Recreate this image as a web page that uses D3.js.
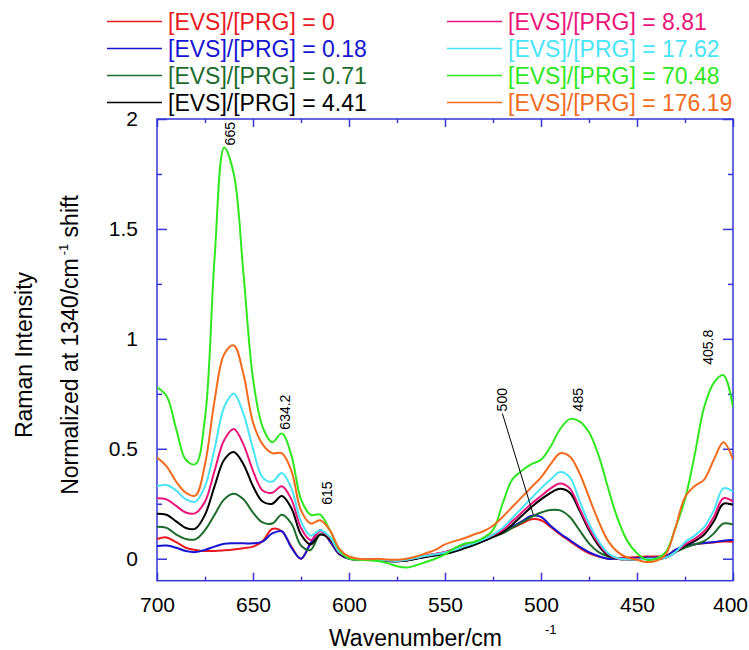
<!DOCTYPE html>
<html>
<head>
<meta charset="utf-8">
<script src="https://cdn.jsdelivr.net/npm/d3@7"></script>
<style>
body { margin: 0; background: #fff; }
text { font-family: "Liberation Sans", Arial, sans-serif; }
</style>
</head>
<body>
<div class="diagram"></div>
<script>
var width = 749, height = 650;

// wavenumbers (cm-1), every 5 from 700 down to 400
var wavenumbers = [700, 695, 690, 685, 680, 675, 670, 665, 660, 655, 650, 645, 640, 635, 630, 625, 620, 615, 610, 605,
  600, 595, 590, 585, 580, 575, 570, 565, 560, 555, 550, 545, 540, 535, 530, 525, 520, 515, 510, 505,
  500, 495, 490, 485, 480, 475, 470, 465, 460, 455, 450, 445, 440, 435, 430, 425, 420, 415, 410, 405, 400];

var ratios = ['0', '0.18', '0.71', '4.41', '8.81', '17.62', '70.48', '176.19'];
var colors = ['#e8191e', '#1414d2', '#1b6b2b', '#000000', '#ea1479', '#48e4f8', '#2ee81e', '#f26b1d'];

var r0 = [.09, .097, .075, .05, .04, .035, .035, .038, .042, .048, .055, .08, .135, .125, .055, 0, .07, .13, .08, .02,
  0, -.005, -.005, -.005, -.008, -.01, -.005, .005, .015, .022, .03, .045, .06, .075, .09, .11, .125, .14, .16, .18,
  .175, .145, .11, .08, .05, .025, .01, 0, .003, .005, .008, .01, .01, .012, .04, .058, .065, .07, .074, .078, .077];
var r018 = [.058, .06, .05, .035, .03, .04, .055, .068, .07, .07, .07, .078, .115, .125, .05, 0, .07, .13, .08, .02,
  0, -.005, -.006, -.005, -.01, -.012, -.008, 0, .01, .018, .025, .038, .052, .066, .082, .1, .12, .145, .17, .195,
  .19, .15, .115, .085, .055, .03, .012, 0, 0, 0, .002, .005, .005, .01, .04, .06, .066, .072, .076, .082, .085];
var r071 = [.145, .14, .11, .09, .088, .13, .2, .27, .295, .27, .21, .165, .16, .2, .16, .06, .04, .11, .09, .025,
  .005, -.005, -.005, -.005, -.01, -.012, -.008, 0, .01, .018, .025, .036, .05, .064, .08, .098, .115, .14, .165, .19,
  .21, .222, .22, .19, .13, .07, .03, .01, 0, -.003, -.003, 0, 0, .005, .03, .05, .065, .08, .115, .16, .155];
var r441 = [.205, .2, .17, .14, .137, .2, .33, .45, .485, .43, .33, .26, .25, .285, .23, .11, .065, .11, .09, .025,
  .005, -.005, -.005, -.005, -.01, -.012, -.008, 0, .008, .015, .022, .033, .047, .062, .08, .1, .12, .155, .195, .235,
  .27, .3, .318, .3, .22, .13, .06, .015, 0, -.003, -.003, 0, 0, .005, .03, .06, .08, .11, .17, .25, .245];
var r881 = [.275, .27, .24, .21, .207, .26, .4, .54, .59, .52, .4, .31, .3, .33, .27, .14, .085, .125, .095, .028,
  .006, -.004, -.004, -.004, -.008, -.01, -.005, .004, .014, .022, .03, .042, .058, .072, .088, .107, .13, .17, .21, .25,
  .285, .32, .342, .32, .23, .14, .07, .02, 0, -.003, -.003, 0, 0, .005, .03, .065, .09, .125, .19, .275, .26];
var r1762 = [.33, .335, .31, .27, .26, .33, .5, .69, .75, .66, .5, .37, .35, .39, .32, .17, .105, .13, .1, .03,
  .007, -.004, -.004, -.004, -.008, -.01, -.005, .004, .013, .02, .028, .04, .056, .07, .088, .11, .14, .185, .23, .275,
  .32, .36, .394, .37, .265, .16, .08, .025, .002, -.003, -.004, 0, 0, .005, .03, .075, .105, .145, .22, .32, .305];
var r7048 = [.78, .74, .59, .45, .43, .64, 1.37, 1.87, 1.75, 1.3, .82, .6, .53, .57, .47, .27, .2, .2, .13, .04,
  0, -.005, -.007, -.01, -.02, -.034, -.04, -.03, -.015, 0, .02, .048, .068, .076, .095, .13, .25, .36, .4, .43,
  .45, .51, .59, .635, .625, .575, .47, .32, .18, .08, .025, -.005, 0, .03, .14, .27, .47, .69, .8, .835, .69];
var r17619 = [.46, .42, .35, .3, .287, .43, .72, .93, .97, .84, .62, .52, .48, .48, .4, .22, .16, .175, .13, .045,
  .01, 0, -.003, 0, -.004, -.005, 0, .01, .025, .04, .065, .08, .093, .11, .125, .15, .19, .235, .28, .325,
  .37, .43, .48, .465, .39, .28, .17, .08, .03, .005, -.005, -.015, -.01, .02, .14, .28, .33, .36, .45, .53, .45];

var seriesValues = [r0, r018, r071, r441, r881, r1762, r7048, r17619];

// peak labels
var peakLabels = ['665', '634.2', '615', '500', '485', '405.8'];
var peakX = [662.1, 633.3, 611.6, 520.1, 480.6, 412.9];
var peakY = [1.88, 0.587, 0.245, 0.67, 0.67, 0.882];

var xTicks = [700, 650, 600, 550, 500, 450, 400];
var xMinor = [675, 625, 575, 525, 475, 425];
var yTicks = [0, 0.5, 1, 1.5, 2];
var yTickLabels = ['0', '0.5', '1', '1.5', '2'];
var yMinor = [0.25, 0.75, 1.25, 1.75];

var axisColor = '#3535d8';

var svg = d3.select('.diagram')
  .append('svg')
  .attr('width', width)
  .attr('height', height);

var x = d3.scaleLinear().domain([700, 400]).range([157, 733]);
var y = d3.scaleLinear().domain([-0.1, 2]).range([580.7, 119]);

function styleAxis(g) {
  g.select('.domain').remove();
  g.selectAll('.tick line').attr('stroke', axisColor).attr('stroke-width', 1.5);
  g.selectAll('.tick text').attr('fill', '#000').attr('font-size', 21)
    .attr('font-family', '"Liberation Sans", Arial, sans-serif');
}

// AXES
svg.append('g').attr('transform', 'translate(0,580.7)')
  .call(d3.axisBottom(x).tickValues(xTicks).tickSize(-8).tickPadding(16).tickFormat(d3.format('d')))
  .call(styleAxis)
  .call(function(g) {
    // keep the last label inside the window
    g.selectAll('.tick text').filter(function(d) { return d === 400; }).attr('dx', -3);
  });
svg.append('g').attr('transform', 'translate(0,580.7)')
  .call(d3.axisBottom(x).tickValues(xMinor).tickSize(-4).tickFormat(''))
  .call(styleAxis);
svg.append('g').attr('transform', 'translate(0,119)')
  .call(d3.axisTop(x).tickValues(xTicks).tickSize(-8).tickFormat(''))
  .call(styleAxis);
svg.append('g').attr('transform', 'translate(0,119)')
  .call(d3.axisTop(x).tickValues(xMinor).tickSize(-4).tickFormat(''))
  .call(styleAxis);

svg.append('g').attr('transform', 'translate(157,0)')
  .call(d3.axisLeft(y).tickValues(yTicks).tickSize(-10).tickPadding(19)
    .tickFormat(function(d, i) { return yTickLabels[i]; }))
  .call(styleAxis);
svg.append('g').attr('transform', 'translate(157,0)')
  .call(d3.axisLeft(y).tickValues(yMinor).tickSize(-5).tickFormat(''))
  .call(styleAxis);
svg.append('g').attr('transform', 'translate(733,0)')
  .call(d3.axisRight(y).tickValues(yTicks).tickSize(-10).tickFormat(''))
  .call(styleAxis);
svg.append('g').attr('transform', 'translate(733,0)')
  .call(d3.axisRight(y).tickValues(yMinor).tickSize(-5).tickFormat(''))
  .call(styleAxis);

svg.append('rect')
  .attr('x', x(700)).attr('y', y(2))
  .attr('width', x(400) - x(700)).attr('height', y(-0.1) - y(2))
  .attr('fill', 'none').attr('stroke', axisColor).attr('stroke-width', 1.5);

// CURVES
svg.append('clipPath').attr('id', 'plotclip')
  .append('rect')
  .attr('x', x(700)).attr('y', y(2))
  .attr('width', x(400) - x(700)).attr('height', y(-0.1) - y(2));

var line = d3.line()
  .x(function(d, i) { return x(wavenumbers[i]); })
  .y(function(d) { return y(d); })
  .curve(d3.curveCatmullRom);

svg.append('g').attr('clip-path', 'url(#plotclip)')
  .selectAll('path')
  .data(seriesValues)
  .enter()
  .append('path')
  .attr('d', line)
  .attr('fill', 'none')
  .attr('stroke', function(d, i) { return colors[i]; })
  .attr('stroke-width', 2);

// PEAK LABELS
svg.selectAll('.peak')
  .data(peakLabels)
  .enter()
  .append('text')
  .attr('class', 'peak')
  .attr('transform', function(d, i) {
    return 'translate(' + x(peakX[i]) + ',' + y(peakY[i]) + ') rotate(-90)';
  })
  .attr('dy', '0.35em')
  .attr('font-size', 14)
  .attr('fill', '#000')
  .text(function(d) { return d; });

// leader line from "500" to the low-ratio peak
svg.append('line')
  .attr('x1', x(520.1)).attr('y1', y(0.66))
  .attr('x2', x(504)).attr('y2', y(0.2))
  .attr('stroke', '#000').attr('stroke-width', 1);

// LEGEND
var legend = svg.selectAll('.legend')
  .data(ratios)
  .enter()
  .append('g')
  .attr('class', 'legend')
  .attr('transform', function(d, i) {
    return 'translate(' + (i < 4 ? 107 : 447) + ',' + (21.5 + (i % 4) * 27) + ')';
  });

legend.append('line')
  .attr('x1', 0).attr('x2', 55)
  .attr('stroke', function(d, i) { return colors[i]; })
  .attr('stroke-width', 1.5);

legend.append('text')
  .attr('x', 61)
  .attr('dy', '0.35em')
  .attr('font-size', 23)
  .attr('fill', function(d, i) { return colors[i]; })
  .text(function(d) { return '[EVS]/[PRG] = ' + d; });

// AXIS TITLES
svg.append('text')
  .attr('transform', 'translate(32,355) rotate(-90)')
  .attr('text-anchor', 'middle')
  .attr('font-size', 23)
  .text('Raman Intensity');

var yt = svg.append('text')
  .attr('transform', 'translate(78,345) rotate(-90)')
  .attr('text-anchor', 'middle')
  .attr('font-size', 23);
yt.append('tspan').text('Normalized at 1340/cm');
yt.append('tspan').attr('dy', -10).attr('dx', 3).attr('font-size', 13).text('-1');
yt.append('tspan').attr('dy', 10).text(' shift');

svg.append('text')
  .attr('x', 329).attr('y', 646)
  .attr('font-size', 23)
  .text('Wavenumber/cm');
svg.append('text')
  .attr('x', 545).attr('y', 634)
  .attr('font-size', 13)
  .text('-1');
</script>
</body>
</html>
